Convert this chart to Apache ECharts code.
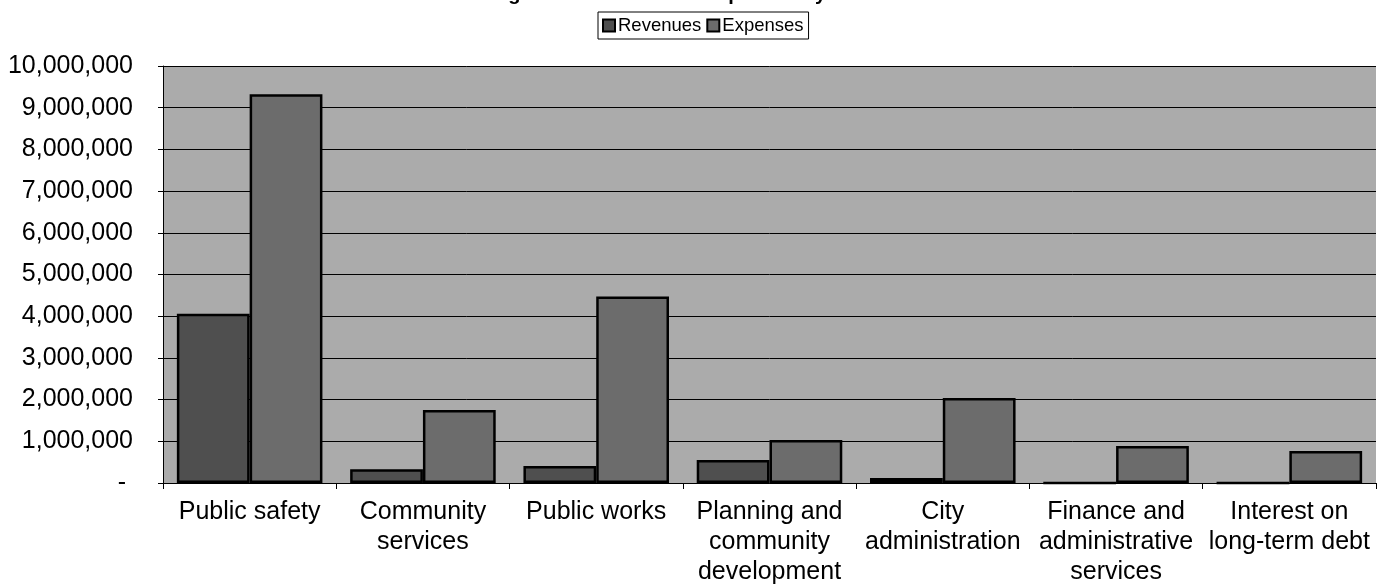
<!DOCTYPE html>
<html>
<head>
<meta charset="utf-8">
<script src="https://cdn.jsdelivr.net/npm/echarts@6/dist/echarts.min.js"></script>
<style>
  html, body { margin: 0; padding: 0; background: #fff; }
  #chart { width: 1391px; height: 584px; }
</style>
</head>
<body>
<div id="chart"></div>
<script>
// data
const categories = [
  "Public safety",
  "Community\nservices",
  "Public works",
  "Planning and\ncommunity\ndevelopment",
  "City\nadministration",
  "Finance and\nadministrative\nservices",
  "Interest on\nlong-term debt"
];
const revenues = [4060000, 330000, 410000, 550000, 120000, 0, 0];
const expenses = [9320000, 1750000, 4470000, 1030000, 2040000, 890000, 770000];
const yMax = 10000000;
const yStep = 1000000;

const font = "Liberation Sans";

const chart = echarts.init(document.getElementById("chart"));

chart.setOption({
  animation: false,
  backgroundColor: "#fff",
  title: {
    text: "Program Revenues and Expenses by Function",
    left: "center",
    top: -21,
    textStyle: { fontFamily: font, fontSize: 20, fontWeight: "bold", color: "#000" }
  },
  legend: {
    data: ["Revenues", "Expenses"],
    left: 598,
    top: 12,
    padding: [4, 5, 4, 4],
    borderColor: "#000",
    borderWidth: 1,
    itemWidth: 12,
    itemHeight: 12,
    itemGap: 5,
    icon: "rect",
    textStyle: { fontFamily: font, fontSize: 18.5, color: "#000", padding: [0, 0, 0, -2] }
  },
  grid: {
    left: 163,
    right: 15,
    top: 66,
    bottom: 101,
    outerBoundsMode: "none",
    containLabel: false,
    show: true,
    backgroundColor: "#ababab",
    borderWidth: 0
  },
  xAxis: {
    type: "category",
    data: categories,
    axisLine: { lineStyle: { color: "#000", width: 1 } },
    axisTick: { show: true, length: 6, lineStyle: { color: "#000" } },
    axisLabel: {
      fontFamily: font,
      fontSize: 25,
      color: "#000",
      lineHeight: 30,
      margin: 14,
      interval: 0
    }
  },
  yAxis: {
    type: "value",
    min: 0,
    max: yMax,
    interval: yStep,
    axisLine: { show: true, lineStyle: { color: "#000", width: 1 } },
    axisTick: { show: true, length: 5, lineStyle: { color: "#000" } },
    splitLine: { lineStyle: { color: "#000", width: 1 } },
    axisLabel: {
      fontFamily: font,
      fontSize: 25,
      color: "#000",
      margin: 30,
      formatter: v => (v === 0 ? "- " : v.toLocaleString("en-US"))
    }
  },
  series: [
    {
      name: "Revenues",
      type: "bar",
      data: revenues,
      barGap: "0%",
      barCategoryGap: "16%",
      itemStyle: { color: "#4f4f4f", borderColor: "#000", borderWidth: 2.5 }
    },
    {
      name: "Expenses",
      type: "bar",
      data: expenses,
      itemStyle: { color: "#6c6c6c", borderColor: "#000", borderWidth: 2.5 }
    }
  ]
});
</script>
</body>
</html>
